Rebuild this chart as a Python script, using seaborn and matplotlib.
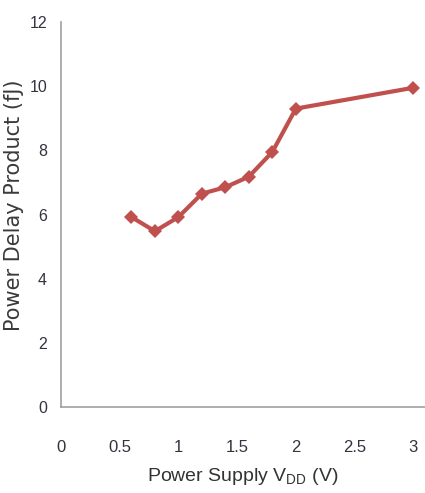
import matplotlib
matplotlib.use("Agg")
import matplotlib.pyplot as plt
import seaborn as sns
import pandas as pd

vdd = [0.6, 0.8, 1.0, 1.2, 1.4, 1.6, 1.8, 2.0, 3.0]
pdp = [5.92, 5.48, 5.92, 6.65, 6.85, 7.18, 7.95, 9.3, 9.95]
xticks = [0, 0.5, 1, 1.5, 2, 2.5, 3]
xticklabels = ["0", "0.5", "1", "1.5", "2", "2.5", "3"]
yticks = [0, 2, 4, 6, 8, 10, 12]

sns.set_theme(style="white")
plt.rcParams['font.family'] = ['Liberation Sans', 'DejaVu Sans']

df = pd.DataFrame({"vdd": vdd, "pdp": pdp})
fig = plt.figure(figsize=(4.25, 4.93), dpi=100)
ax = fig.add_axes([0.1435, 0.1744, 0.8565, 0.781])
sns.lineplot(data=df, x="vdd", y="pdp", ax=ax, color="#C0504D", linewidth=3,
             marker="D", markersize=7, markeredgewidth=0)
ax.set_xlim(0, 3.1)
ax.set_ylim(0, 12)
ax.set_xticks(xticks)
ax.set_xticklabels(xticklabels)
ax.set_yticks(yticks)
ax.tick_params(axis="both", length=0, labelsize=11.5, labelcolor="#333340")
ax.tick_params(axis="x", labelsize=12, pad=24)
ax.tick_params(axis="y", pad=10)
for s in ["top", "right"]:
    ax.spines[s].set_visible(False)
for s in ["left", "bottom"]:
    ax.spines[s].set_color("#A0A0A0")
    ax.spines[s].set_linewidth(1.2)
ax.set_xlabel("Power Supply V$_{\\mathregular{DD}}$ (V)", fontsize=14, color="#333333", labelpad=8)
ax.set_ylabel("")
fig.text(0.034, 0.584, "Power Delay Product (fJ)", rotation=90, ha="center", va="center",
         fontsize=15, color="#3a3a3a", family="DejaVu Sans")
fig.savefig("out.png", dpi=100)
